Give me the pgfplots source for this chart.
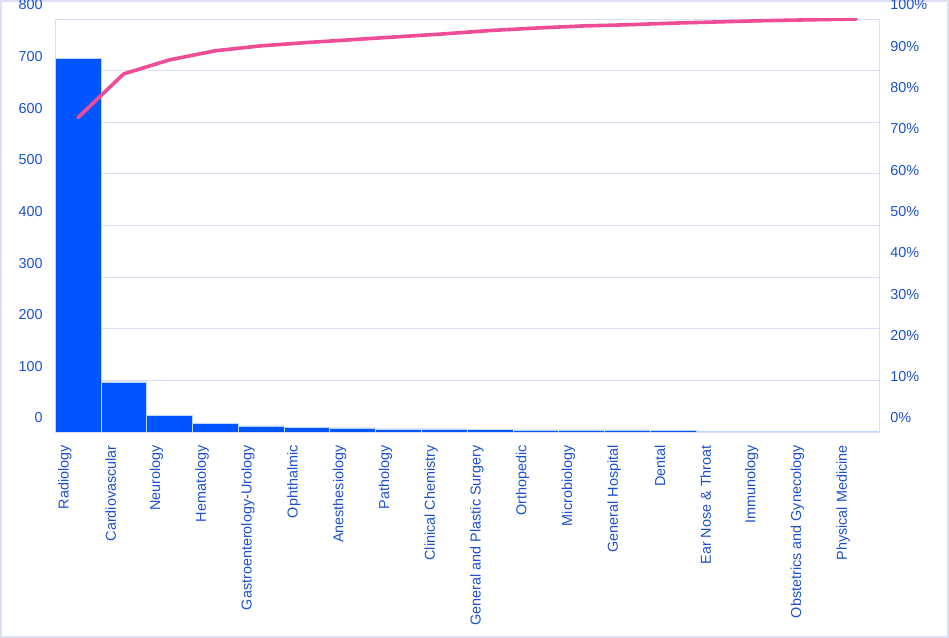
\documentclass[border=0pt]{standalone}
\usepackage{pgfplots}
\pgfplotsset{compat=1.18}
\usepackage{fontspec}
\setmainfont{Liberation Sans}
\definecolor{barblue}{RGB}{0,85,255}
\definecolor{txtblue}{RGB}{28,80,208}
\definecolor{linepink}{RGB}{238,77,150}
\definecolor{gridlav}{RGB}{218,221,245}
\definecolor{framelav}{RGB}{222,222,246}
\begin{document}
\begin{tikzpicture}
\path[use as bounding box] (0,0) rectangle (711.75pt,478.5pt);
\draw[framelav, line width=1.5pt] (0.75pt,0.75pt) rectangle (711pt,477.75pt);
\begin{axis}[
  at={(41.25pt,154.5pt)}, anchor=south west,
  scale only axis, width=618pt, height=309.75pt,
  xmin=-0.5, xmax=17.5, ymin=0, ymax=800,
  ytick={0,100,...,800},
  xtick={0,...,17},
  xticklabels={Radiology,Cardiovascular,Neurology,Hematology,Gastroenterology-Urology,Ophthalmic,Anesthesiology,Pathology,Clinical Chemistry,General and Plastic Surgery,Orthopedic,Microbiology,General Hospital,Dental,Ear Nose \& Throat,Immunology,Obstetrics and Gynecology,Physical Medicine},
  major tick length=0pt,
  axis line style={gridlav, line width=0.6pt},
  ymajorgrids, grid style={gridlav, line width=0.6pt},
  /pgf/number format/assume math mode=true,
  tick label style={font=\fontsize{10.8}{12}\selectfont, text=txtblue, inner sep=0pt},
  yticklabel style={anchor=east, xshift=-9pt, yshift=10.5pt},
  xticklabel style={rotate=90, anchor=east, xshift=-9.75pt, yshift=9.75pt},
]
\addplot[ybar, bar width=1, bar shift=0pt, fill=barblue, draw=white!75!barblue, line width=0.4pt]
coordinates {(0,723) (1,97) (2,32) (3,17) (4,12) (5,9) (6,8) (7,6) (8,6) (9,5) (10,4) (11,4) (12,4) (13,3) (14,1) (15,1) (16,1) (17,1)};
\end{axis}
\begin{axis}[
  at={(41.25pt,154.5pt)}, anchor=south west,
  scale only axis, width=618pt, height=309.75pt,
  xmin=-0.5, xmax=17.5, ymin=0, ymax=100,
  axis x line=none, axis y line*=right,
  ytick={0,10,...,100},
  yticklabel={\pgfmathprintnumber{\tick}\%},
  major tick length=0pt,
  axis line style={gridlav, line width=0.6pt},
  /pgf/number format/assume math mode=true,
  tick label style={font=\fontsize{10.8}{12}\selectfont, text=txtblue, inner sep=0pt},
  yticklabel style={anchor=west, xshift=8.25pt, yshift=10.5pt},
]
\addplot[linepink, line width=2.7pt, line join=round, line cap=round, mark=none]
coordinates {(0,76.1) (1,86.7) (2,90.1) (3,92.3) (4,93.5) (5,94.3) (6,95.0) (7,95.7) (8,96.4) (9,97.2) (10,97.8) (11,98.3) (12,98.6) (13,99.0) (14,99.3) (15,99.6) (16,99.8) (17,100)};
\end{axis}
\end{tikzpicture}
\end{document}
